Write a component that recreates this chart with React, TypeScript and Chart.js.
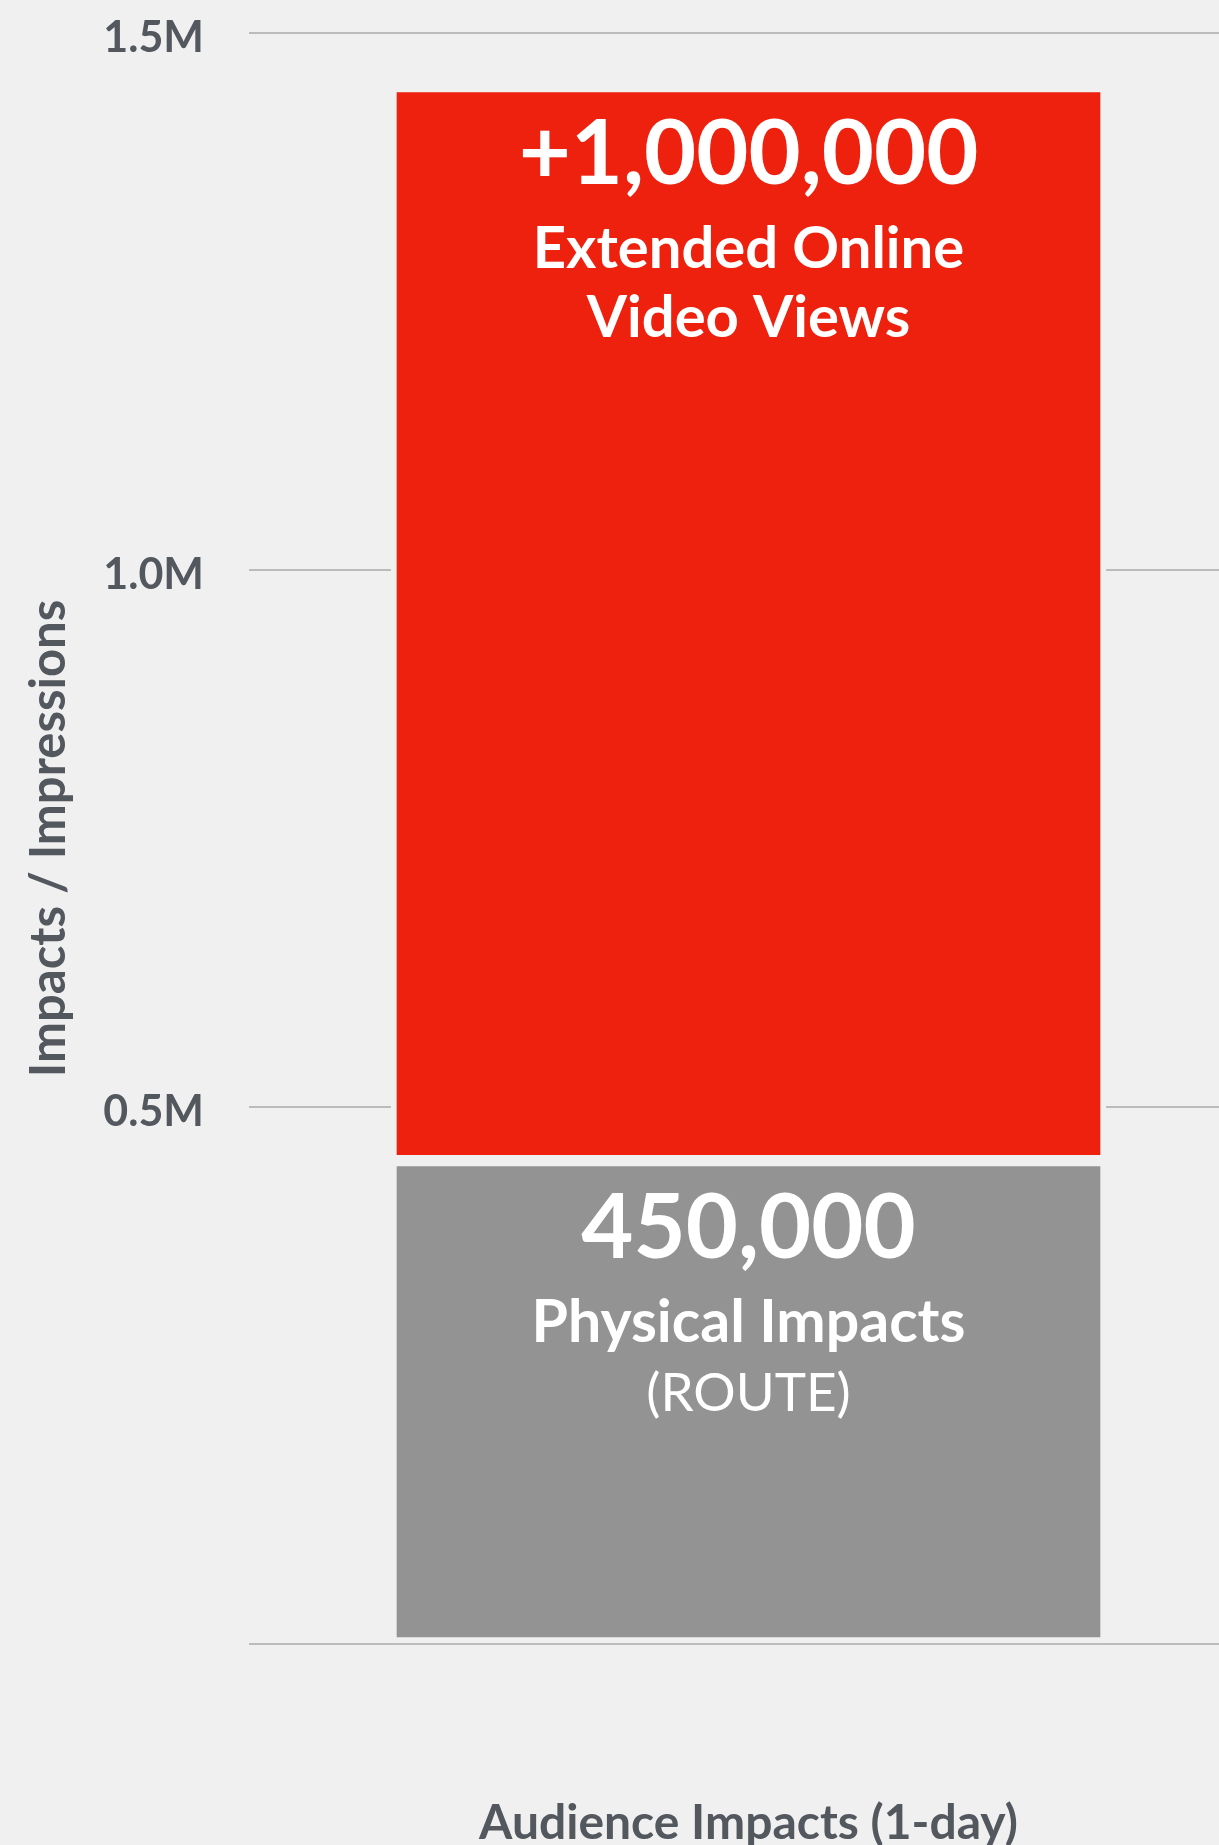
import React, { useEffect, useRef } from 'react';
import { Chart, registerables } from 'chart.js';

Chart.register(...registerables);

// ---- data ----
const categories = ['Audience Impacts (1-day)'];
const physicalImpacts = [450000];
const extendedOnlineViews = [1000000];
const yTickValues = [0, 500000, 1000000, 1500000];
const yTickLabels = ['', '0.5M', '1.0M', '1.5M'];
const yAxisTitle = 'Impacts / Impressions';
const physicalLabelLines = ['450,000', 'Physical Impacts', '(ROUTE)'];
const extendedLabelLines = ['+1,000,000', 'Extended Online', 'Video Views'];

// ---- styles ----
const BG = '#f0f0f0';
const RED = '#ee210e';
const GRAY = '#939393';
const TEXT = '#53575e';
const GRID = '#bbbbbb';
const BAR_BORDER = 6;
const FONT = 'Lato';

const physicalStyles = [
  { size: 90, dy: 91, weight: 'bold' },
  { size: 59, dy: 175, weight: 'bold' },
  { size: 53, dy: 244, weight: 'normal' },
];
const extendedStyles = [
  { size: 90, dy: 91, weight: 'bold' },
  { size: 58, dy: 175, weight: 'bold' },
  { size: 58, dy: 244, weight: 'bold' },
];

const barTextPlugin = {
  id: 'barText',
  afterDatasetsDraw(chart: any) {
    const ctx = chart.ctx;
    const groups = [
      { lines: physicalLabelLines, styles: physicalStyles },
      { lines: extendedLabelLines, styles: extendedStyles },
    ];
    chart.data.datasets.forEach((_ds: any, i: number) => {
      const meta = chart.getDatasetMeta(i);
      const bar = meta.data[0];
      if (!bar) return;
      const p = bar.getProps(['x', 'y', 'base'], true);
      const top = Math.min(p.y, p.base) + BAR_BORDER;
      const g = groups[i];
      ctx.save();
      ctx.fillStyle = '#ffffff';
      ctx.textAlign = 'center';
      ctx.textBaseline = 'alphabetic';
      g.lines.forEach((line, j) => {
        const st = g.styles[j];
        ctx.font = `${st.weight} ${st.size}px ${FONT}`;
        ctx.fillText(line, p.x, top + st.dy);
      });
      ctx.restore();
    });
  },
};

export default function App() {
  const canvasRef = useRef<HTMLCanvasElement | null>(null);

  useEffect(() => {
    if (!canvasRef.current) return;
    const chart = new Chart(canvasRef.current, {
      type: 'bar',
      data: {
        labels: categories,
        datasets: [
          {
            label: 'Physical Impacts',
            data: physicalImpacts,
            backgroundColor: GRAY,
            borderColor: BG,
            borderWidth: BAR_BORDER,
            borderSkipped: false,
            barThickness: 715,
          },
          {
            label: 'Extended Online Video Views',
            data: extendedOnlineViews,
            backgroundColor: RED,
            borderColor: BG,
            borderWidth: BAR_BORDER,
            borderSkipped: false,
            barThickness: 715,
          },
        ],
      },
      options: {
        animation: false,
        responsive: false,
        devicePixelRatio: 1,
        layout: { padding: { top: 33, left: 0, right: 0, bottom: 0 } },
        plugins: {
          legend: { display: false },
          tooltip: { enabled: false },
        },
        scales: {
          x: {
            stacked: true,
            grid: { display: false },
            border: { display: false },
            ticks: {
              color: TEXT,
              padding: 143,
              font: { family: FONT, size: 48, weight: 'bold' },
            },
            afterFit: (s: any) => {
              s.height = 201;
              s.paddingLeft = 0;
              s.paddingRight = 0;
            },
          },
          y: {
            stacked: true,
            min: 0,
            max: 1500000,
            afterBuildTicks: (s: any) => {
              s.ticks = yTickValues.map((v) => ({ value: v }));
            },
            ticks: {
              color: TEXT,
              padding: 45,
              labelOffset: 5,
              font: { family: FONT, size: 43, weight: 'bold' },
              callback: (_v: any, i: number) => yTickLabels[i],
            },
            grid: { color: GRID, lineWidth: 2, drawTicks: false },
            border: { display: false },
            title: {
              display: true,
              text: yAxisTitle,
              color: TEXT,
              font: { family: FONT, size: 49, weight: 'bold' },
              padding: { top: 20, bottom: 0 },
            },
            afterFit: (s: any) => {
              s.width = 249;
              s.paddingTop = 0;
              s.paddingBottom = 0;
            },
          },
        },
      },
      plugins: [barTextPlugin],
    });
    return () => chart.destroy();
  }, []);

  return (
    <div
      style={{
        position: 'absolute',
        left: 0,
        top: 0,
        width: 1219,
        height: 1845,
        overflow: 'hidden',
        background: BG,
      }}
    >
      <canvas ref={canvasRef} width={1248} height={1845} style={{ display: 'block' }} />
    </div>
  );
}
